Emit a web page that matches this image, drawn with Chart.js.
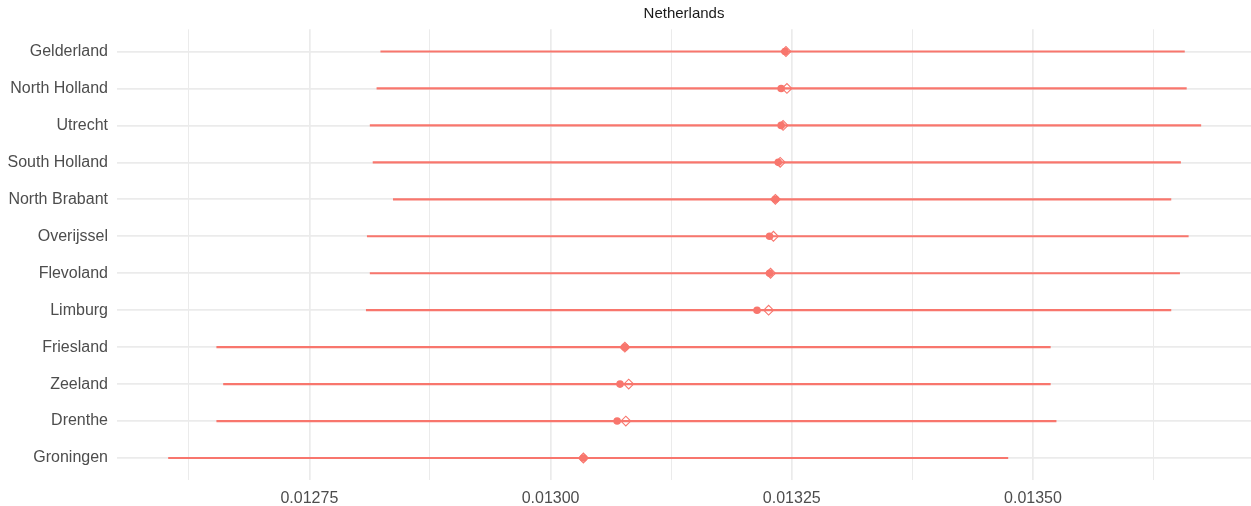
<!DOCTYPE html>
<html>
<head>
<meta charset="utf-8">
<script src="https://cdn.jsdelivr.net/npm/chart.js@4.4.1/dist/chart.umd.min.js"></script>
<style>
  html, body { margin: 0; padding: 0; background: #ffffff; }
  #wrap { width: 1251px; height: 506px; }
</style>
</head>
<body>
<div id="wrap"><canvas id="c" width="1251" height="506"></canvas></div>
<script>
const title = 'Netherlands';
const regions = ['Gelderland', 'North Holland', 'Utrecht', 'South Holland', 'North Brabant',
  'Overijssel', 'Flevoland', 'Limburg', 'Friesland', 'Zeeland', 'Drenthe', 'Groningen'];
const lower  = [0.012824, 0.012820, 0.012813, 0.012816, 0.012837, 0.012810,
  0.012813, 0.012809, 0.012654, 0.012661, 0.012654, 0.012604];
const upper  = [0.013657, 0.013659, 0.013674, 0.013653, 0.013643, 0.013661,
  0.013652, 0.013643, 0.013518, 0.013518, 0.013524, 0.013474];
const meanVals   = [0.013243, 0.013239, 0.013239, 0.013236, 0.013233, 0.013227,
  0.013227, 0.013214, 0.013077, 0.013072, 0.013069, 0.013034];
const medianVals = [0.013244, 0.013245, 0.013241, 0.013238, 0.013233, 0.013231,
  0.013228, 0.013226, 0.013077, 0.013081, 0.013078, 0.013034];
const majorTicks = [0.01275, 0.01300, 0.01325, 0.01350];
const tickLabels = ['0.01275', '0.01300', '0.01325', '0.01350'];
const minorTicks = [0.012625, 0.012875, 0.013125, 0.013375, 0.013625];

const RED = '#F8766D';
const GRID = '#EBEBEB';

const intervalData = regions.map((r, i) => ({ x: [lower[i], upper[i]], y: i }));
const meanData = regions.map((r, i) => ({ x: meanVals[i], y: i }));
const medianData = regions.map((r, i) => ({ x: medianVals[i], y: i }));

function isMajor(v) { return majorTicks.some(m => Math.abs(m - v) < 1e-9); }

new Chart(document.getElementById('c'), {
  type: 'bar',
  data: {
    datasets: [
      {
        type: 'line', label: 'median', data: medianData, order: 1,
        showLine: false, pointStyle: 'rectRot', pointRadius: 4.9,
        pointBackgroundColor: 'rgba(0,0,0,0)', pointBorderColor: RED, pointBorderWidth: 1.1,
        borderColor: RED
      },
      {
        type: 'line', label: 'mean', data: meanData, order: 2,
        showLine: false, pointStyle: 'circle', pointRadius: 3.8,
        pointBackgroundColor: RED, pointBorderColor: RED, pointBorderWidth: 0,
        borderColor: RED
      },
      {
        type: 'bar', label: 'interval', data: intervalData, order: 3,
        backgroundColor: RED, borderWidth: 0, barThickness: 1.5, borderSkipped: false
      }
    ]
  },
  options: {
    responsive: false,
    animation: false,
    indexAxis: 'y',
    layout: { padding: 0, autoPadding: false },
    plugins: {
      legend: { display: false },
      tooltip: { enabled: false },
      title: {
        display: true, text: title, fullSize: false,
        color: '#1A1A1A',
        font: { family: '"Liberation Sans", Arial, sans-serif', size: 15, weight: 'normal', lineHeight: 1.2 },
        padding: { top: 5, bottom: 6.3 }
      }
    },
    scales: {
      x: {
        type: 'linear',
        min: 0.0125506, max: 0.013726,
        border: { display: false },
        grid: {
          color: GRID,
          lineWidth: (ctx) => (ctx.tick && isMajor(ctx.tick.value)) ? 1.7 : 1.0,
          drawTicks: false
        },
        afterBuildTicks: (scale) => {
          scale.ticks = majorTicks.concat(minorTicks).sort((a, b) => a - b).map(v => ({ value: v }));
        },
        afterFit: (scale) => { scale.height = 25.8; },
        ticks: {
          autoSkip: false, maxRotation: 0, padding: 9,
          color: '#4D4D4D',
          font: { family: '"Liberation Sans", Arial, sans-serif', size: 16 },
          callback: (v) => {
            const k = majorTicks.findIndex(m => Math.abs(m - v) < 1e-9);
            return k >= 0 ? tickLabels[k] : '';
          }
        }
      },
      y: {
        type: 'linear',
        reverse: true,
        offset: false,
        min: -0.6, max: regions.length - 0.4,
        border: { display: false },
        grid: { color: GRID, lineWidth: 1.7, drawTicks: false, offset: false },
        afterBuildTicks: (scale) => {
          scale.ticks = regions.map((r, i) => ({ value: i }));
        },
        afterFit: (scale) => { scale.width = 117; },
        ticks: {
          autoSkip: false, padding: 9,
          color: '#4D4D4D',
          font: { family: '"Liberation Sans", Arial, sans-serif', size: 16 },
          callback: (v) => regions[Math.round(v)] ?? ''
        }
      }
    }
  }
});
</script>
</body>
</html>
